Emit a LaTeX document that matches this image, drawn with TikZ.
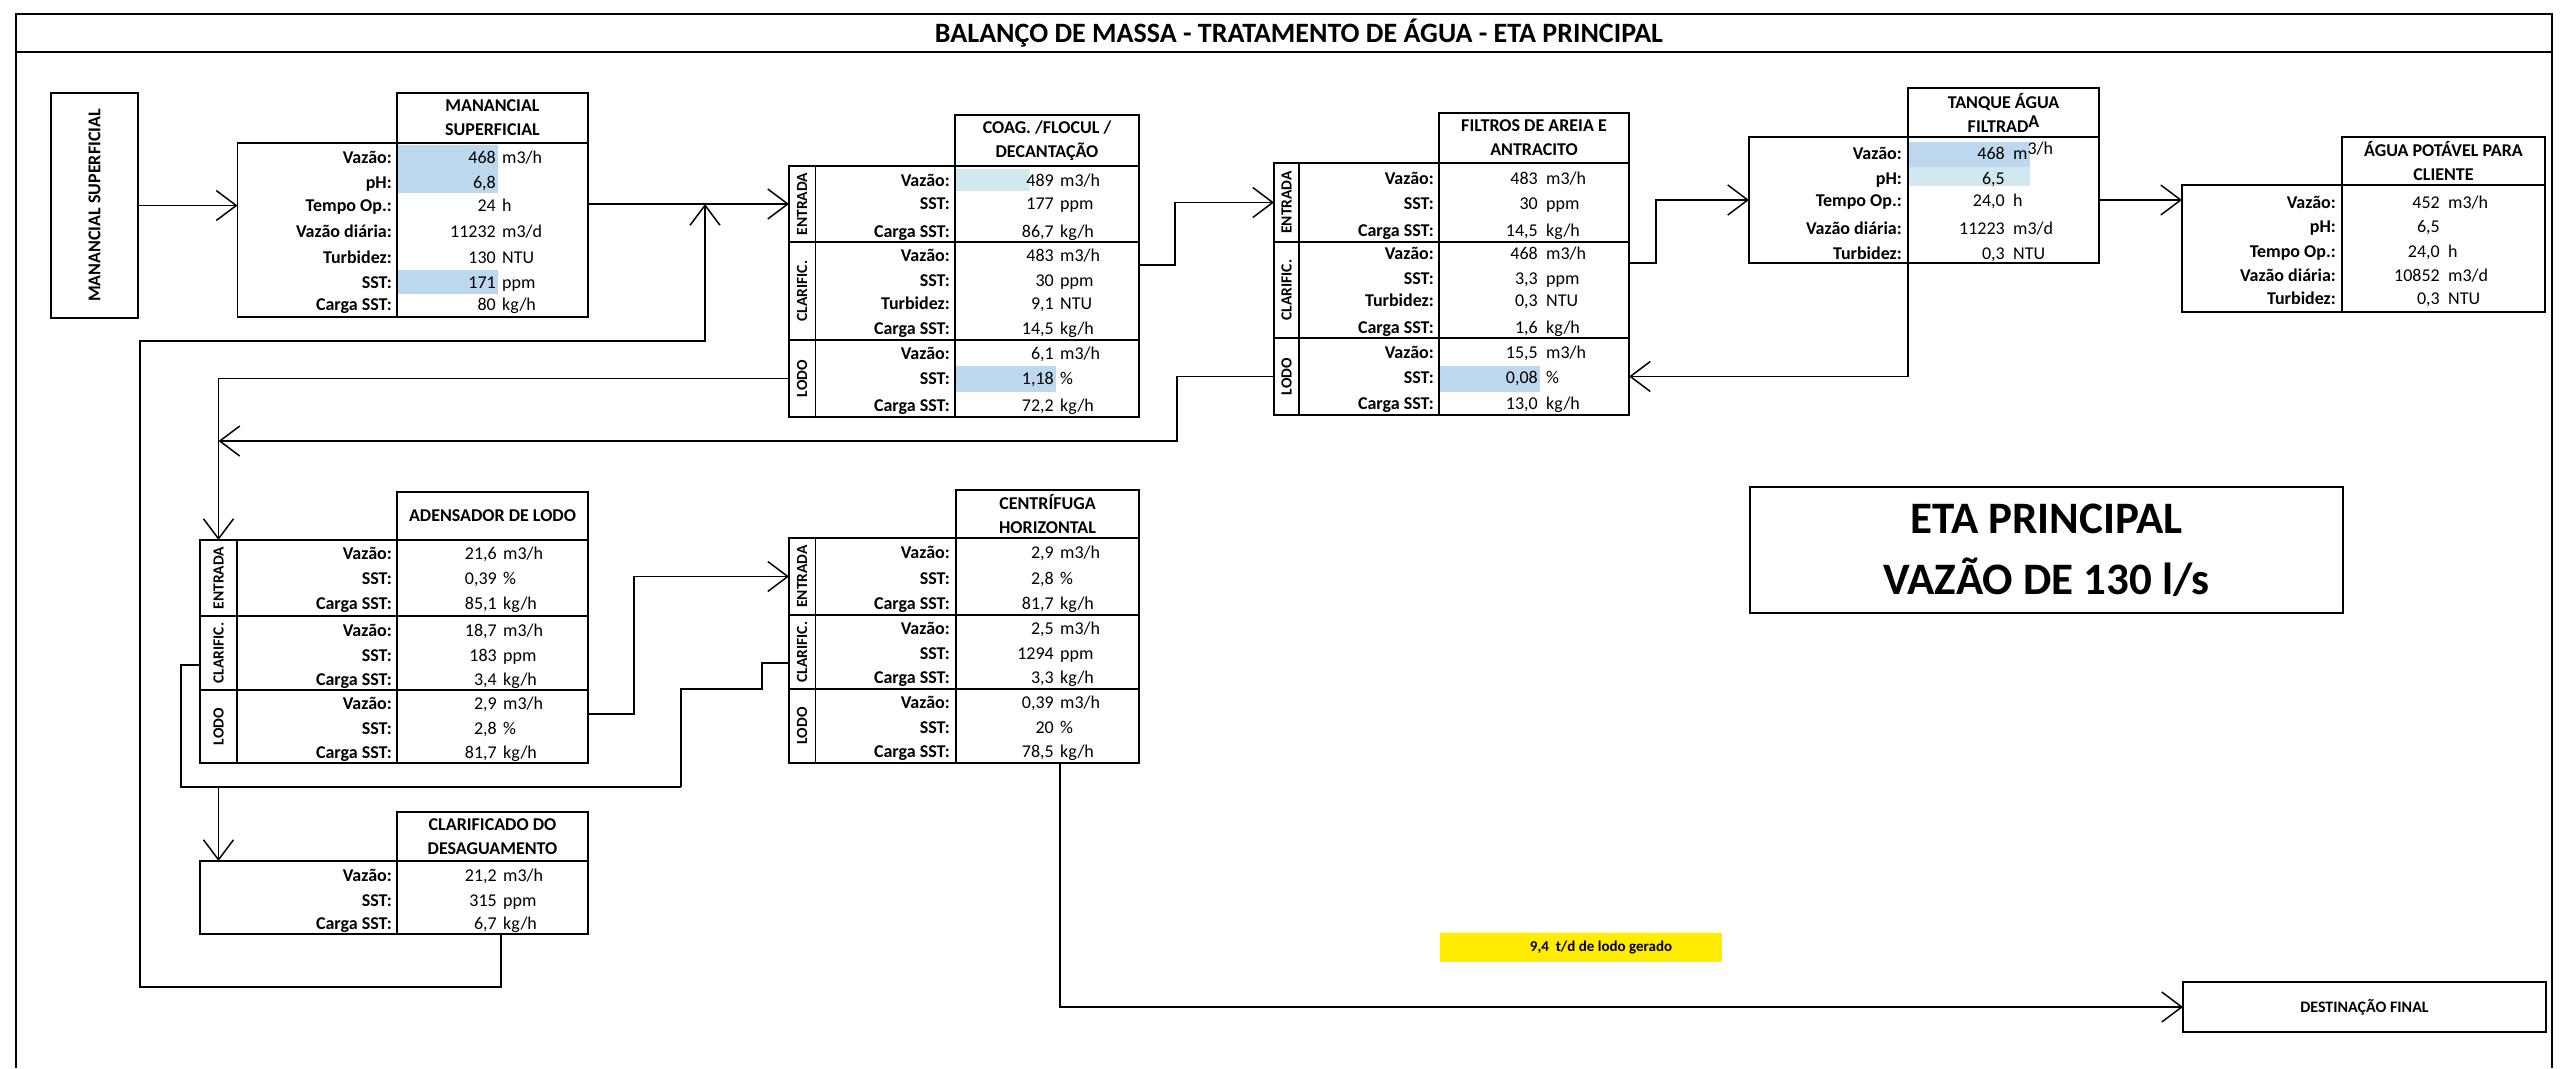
\documentclass[tikz,border=0pt]{standalone}
\usepackage{fontspec}
\setmainfont{Carlito}
\usetikzlibrary{arrows.meta}
\definecolor{hl}{RGB}{189,215,238}
\definecolor{hlb}{RGB}{208,232,240}
\definecolor{yel}{RGB}{255,236,0}
\newcommand\rw[5]{%
  \node[lab,anchor=base east] (#1a) at (\LX,#2) {#3};
  \node[val,anchor=base east] (#1b) at (\VX,#2) {#4};
  \node[val,anchor=base west] (#1c) at (\UX,#2) {#5};}
\begin{document}
\begin{tikzpicture}[x=1pt,y=-1pt,
  box/.style={draw, line width=1.5pt, inner sep=0pt, outer sep=0pt},
  hdr/.style={box, align=center, font=\fontsize{18}{24}\selectfont\bfseries},
  lab/.style={inner sep=0pt, font=\fontsize{18}{20}\selectfont\bfseries},
  val/.style={inner sep=0pt, font=\fontsize{18}{20}\selectfont},
  sec/.style={inner sep=0pt, rotate=90, font=\fontsize{15.5}{17}\selectfont\bfseries},
  wire/.style={line width=1.5pt},
  conn/.style={wire, -{Straight Barb[length=20pt,width=30pt]}}]
\useasboundingbox (0,0) rectangle (2561,1068);
% frame and title
\draw[wire] (16,1068) -- (16,14) -- (2552,14) -- (2552,1068);
\draw[wire] (16,52) -- (2552,52);
\node[font=\fontsize{28}{30}\selectfont\bfseries] (title) at (1299,33) {BALANÇO DE MASSA - TRATAMENTO DE ÁGUA - ETA PRINCIPAL};
% highlights
\fill[hl] (398,145) rectangle (498,193);
\fill[hl] (398,270) rectangle (498,294);
\fill[hlb] (956,169) rectangle (1030,191);
\fill[hl] (956,366) rectangle (1056,392);
\fill[hl] (1440,366) rectangle (1540,392);
\fill[hl] (1909,142) rectangle (2030,167);
\fill[hlb] (1909,167) rectangle (2030,186);
% source
\node[box, anchor=north west, minimum width=87pt, minimum height=225pt, font=\fontsize{18}{20}\selectfont\bfseries] (src) at (51,93) {\rotatebox{90}{MANANCIAL SUPERFICIAL}};
% Manancial table
\node[hdr, anchor=north west, minimum width=191pt, minimum height=50pt] (manH) at (397,93) {MANANCIAL\\SUPERFICIAL};
\node[box, anchor=north west, minimum width=350.5pt, minimum height=174pt] (manB) at (237.5,143) {};
\draw[wire] (manH.south west) -- (manH.south west |- manB.south);
\def\LX{392}\def\VX{496}\def\UX{502}
\rw{man1}{163}{Vazão:}{468}{m3/h}
\rw{man2}{188}{pH:}{6,8}{}
\rw{man3}{211}{Tempo Op.:}{24}{h}
\rw{man4}{237}{Vazão diária:}{11232}{m3/d}
\rw{man5}{263}{Turbidez:}{130}{NTU}
\rw{man6}{288}{SST:}{171}{ppm}
\rw{man7}{310}{Carga SST:}{80}{kg/h}
% COAG
\node[hdr, anchor=north west, minimum width=184pt, minimum height=51pt] (coagH) at (955,115) {COAG. /FLOCUL /\\DECANTAÇÃO};
\node[box, anchor=north west, minimum width=350pt, minimum height=76pt] (coagE) at (789,166) {};
\node[box, anchor=north west, minimum width=350pt, minimum height=98pt] (coagC) at (789,242) {};
\node[box, anchor=north west, minimum width=350pt, minimum height=77pt] (coagL) at (789,340) {};
\draw[wire] (815.5,166) -- (815.5,417);
\draw[wire] (955,166) -- (955,417);
\node[sec] (coagEs) at (802,204) {ENTRADA};
\node[sec] (coagCs) at (802,291) {CLARIFIC.};
\node[sec] (coagLs) at (802,378.5) {LODO};
\def\LX{950}\def\VX{1054}\def\UX{1060}
\rw{coag1}{186}{Vazão:}{489}{m3/h}
\rw{coag2}{209}{SST:}{177}{ppm}
\rw{coag3}{237}{Carga SST:}{86,7}{kg/h}
\rw{coag4}{261}{Vazão:}{483}{m3/h}
\rw{coag5}{286}{SST:}{30}{ppm}
\rw{coag6}{309}{Turbidez:}{9,1}{NTU}
\rw{coag7}{334}{Carga SST:}{14,5}{kg/h}
\rw{coag8}{359}{Vazão:}{6,1}{m3/h}
\rw{coag9}{384}{SST:}{1,18}{\%}
\rw{coag10}{411}{Carga SST:}{72,2}{kg/h}
% Filtros
\node[hdr, anchor=north west, minimum width=190pt, minimum height=50pt] (filH) at (1439,113) {FILTROS DE AREIA E\\ANTRACITO};
\node[box, anchor=north west, minimum width=355pt, minimum height=79pt] (filE) at (1274,163) {};
\node[box, anchor=north west, minimum width=355pt, minimum height=96pt] (filC) at (1274,242) {};
\node[box, anchor=north west, minimum width=355pt, minimum height=77pt] (filL) at (1274,338) {};
\draw[wire] (1299,163) -- (1299,415);
\draw[wire] (1439,163) -- (1439,415);
\node[sec] (filEs) at (1286.5,202.5) {ENTRADA};
\node[sec] (filCs) at (1286.5,290) {CLARIFIC.};
\node[sec] (filLs) at (1286.5,376.5) {LODO};
\def\LX{1434}\def\VX{1538}\def\UX{1546}
\rw{fil1}{184}{Vazão:}{483}{m3/h}
\rw{fil2}{209}{SST:}{30}{ppm}
\rw{fil3}{236}{Carga SST:}{14,5}{kg/h}
\rw{fil4}{259}{Vazão:}{468}{m3/h}
\rw{fil5}{284}{SST:}{3,3}{ppm}
\rw{fil6}{306}{Turbidez:}{0,3}{NTU}
\rw{fil7}{333}{Carga SST:}{1,6}{kg/h}
\rw{fil8}{358}{Vazão:}{15,5}{m3/h}
\rw{fil9}{383}{SST:}{0,08}{\%}
\rw{fil10}{409}{Carga SST:}{13,0}{kg/h}
% Tanque
\node[hdr, anchor=north west, minimum width=191pt, minimum height=49pt] (tnkH) at (1908,88) {TANQUE ÁGUA\\FILTRAD\raisebox{5pt}{A}};
\node[box, anchor=north west, minimum width=350pt, minimum height=126pt] (tnkB) at (1749,137) {};
\draw[wire] (tnkH.south west) -- (tnkH.south west |- tnkB.south);
\def\LX{1902}\def\VX{2005}\def\UX{2013}
\rw{tnk1}{159}{Vazão:}{468}{m\raisebox{5pt}{3/h}}
\rw{tnk2}{184}{pH:}{6,5}{}
\rw{tnk3}{206}{Tempo Op.:}{24,0}{h}
\rw{tnk4}{234}{Vazão diária:}{11223}{m3/d}
\rw{tnk5}{259}{Turbidez:}{0,3}{NTU}
% Agua potavel
\node[hdr, anchor=north west, minimum width=203pt, minimum height=48pt] (aguH) at (2342,137) {ÁGUA POTÁVEL PARA\\CLIENTE};
\node[box, anchor=north west, minimum width=363pt, minimum height=127pt] (aguB) at (2182,185) {};
\draw[wire] (aguH.south west) -- (aguH.south west |- aguB.south);
\def\LX{2336}\def\VX{2440}\def\UX{2448}
\rw{agu1}{208}{Vazão:}{452}{m3/h}
\rw{agu2}{232}{pH:}{6,5}{}
\rw{agu3}{257}{Tempo Op.:}{24,0}{h}
\rw{agu4}{281}{Vazão diária:}{10852}{m3/d}
\rw{agu5}{304}{Turbidez:}{0,3}{NTU}
% Adensador
\node[hdr, anchor=north west, minimum width=191pt, minimum height=48pt] (adH) at (397,492) {ADENSADOR DE LODO};
\node[box, anchor=north west, minimum width=388pt, minimum height=76pt] (adE) at (200,540) {};
\node[box, anchor=north west, minimum width=388pt, minimum height=74pt] (adC) at (200,616) {};
\node[box, anchor=north west, minimum width=388pt, minimum height=73pt] (adL) at (200,690) {};
\draw[wire] (237,540) -- (237,763);
\draw[wire] (397,540) -- (397,763);
\node[sec] (adEs) at (218.5,578) {ENTRADA};
\node[sec] (adCs) at (218.5,653) {CLARIFIC.};
\node[sec] (adLs) at (218.5,726.5) {LODO};
\def\LX{392}\def\VX{497}\def\UX{503}
\rw{ad1}{559}{Vazão:}{21,6}{m3/h}
\rw{ad2}{584}{SST:}{0,39}{\%}
\rw{ad3}{609}{Carga SST:}{85,1}{kg/h}
\rw{ad4}{636}{Vazão:}{18,7}{m3/h}
\rw{ad5}{661}{SST:}{183}{ppm}
\rw{ad6}{685}{Carga SST:}{3,4}{kg/h}
\rw{ad7}{709}{Vazão:}{2,9}{m3/h}
\rw{ad8}{734}{SST:}{2,8}{\%}
\rw{ad9}{758}{Carga SST:}{81,7}{kg/h}
% Centrifuga
\node[hdr, anchor=north west, minimum width=183pt, minimum height=48pt] (cenH) at (956,490) {CENTRÍFUGA\\HORIZONTAL};
\node[box, anchor=north west, minimum width=350pt, minimum height=77pt] (cenE) at (789,538) {};
\node[box, anchor=north west, minimum width=350pt, minimum height=74pt] (cenC) at (789,615) {};
\node[box, anchor=north west, minimum width=350pt, minimum height=74pt] (cenL) at (789,689) {};
\draw[wire] (815.5,538) -- (815.5,763);
\draw[wire] (956,538) -- (956,763);
\node[sec] (cenEs) at (802,576.5) {ENTRADA};
\node[sec] (cenCs) at (802,652) {CLARIFIC.};
\node[sec] (cenLs) at (802,726) {LODO};
\def\LX{950}\def\VX{1054}\def\UX{1060}
\rw{cen1}{558}{Vazão:}{2,9}{m3/h}
\rw{cen2}{584}{SST:}{2,8}{\%}
\rw{cen3}{609}{Carga SST:}{81,7}{kg/h}
\rw{cen4}{634}{Vazão:}{2,5}{m3/h}
\rw{cen5}{659}{SST:}{1294}{ppm}
\rw{cen6}{683}{Carga SST:}{3,3}{kg/h}
\rw{cen7}{708}{Vazão:}{0,39}{m3/h}
\rw{cen8}{733}{SST:}{20}{\%}
\rw{cen9}{757}{Carga SST:}{78,5}{kg/h}
% Clarificado
\node[hdr, anchor=north west, minimum width=191pt, minimum height=49pt] (clrH) at (397,812) {CLARIFICADO DO\\DESAGUAMENTO};
\node[box, anchor=north west, minimum width=388pt, minimum height=73pt] (clrB) at (200,861) {};
\draw[wire] (clrH.south west) -- (clrH.south west |- clrB.south);
\def\LX{392}\def\VX{497}\def\UX{503}
\rw{clr1}{881}{Vazão:}{21,2}{m3/h}
\rw{clr2}{906}{SST:}{315}{ppm}
\rw{clr3}{929}{Carga SST:}{6,7}{kg/h}
% ETA box
\node[box, line width=2pt, minimum width=593pt, minimum height=126pt, align=center, font=\fontsize{45}{61}\selectfont\bfseries] (eta) at (2046.5,550) {ETA PRINCIPAL\\VAZÃO DE 130 l/s};
% yellow note
\node[fill=yel, inner sep=0pt, minimum width=282pt, minimum height=29pt, font=\fontsize{15}{17}\selectfont\bfseries] (note) at (1581,947.5) {\hspace*{40pt}9,4~~t/d de lodo gerado};
% destination
\node[box, minimum width=363pt, minimum height=50pt, font=\fontsize{16}{18}\selectfont\bfseries] (dest) at (2364.5,1007) {DESTINAÇÃO FINAL};
% connector ports
\coordinate (coagCo) at (1139,265);
\coordinate (filCo) at (1629,263);
\coordinate (tnkDiv) at (1908,263);
\coordinate (adIn) at (218.5,540);
\coordinate (bus) at (218.5,441);
\coordinate (adLo) at (588,714);
\coordinate (adCo) at (200,665);
\coordinate (cenCo) at (789,663);
\coordinate (merge) at (681,787);
\coordinate (clrIn) at (218.5,861);
\coordinate (clrOut) at (501,934);
\coordinate (recJ) at (705,204);
\coordinate (cenLo) at (1060,763);
% connectors
\draw[conn] (src.east) -- (src.east -| manB.west);
\draw[conn] (manB.east |- coagE.west) -- (coagE.west);
\draw[conn] (coagCo) -- ++(36,0) |- (filE.west);
\draw[conn] (filCo) -- ++(27,0) |- (tnkB.west);
\draw[conn] (tnkB.east) -- (tnkB.east -| aguB.west);
\draw[conn] (tnkDiv) |- (filL.east);
\draw[conn] (coagL.west) -| (adIn);
\draw[conn] (filL.west) -- ++(-97,0) |- (bus);
\draw[conn] (adLo) -- ++(46,0) |- (cenE.west);
\draw[wire] (adCo) -- ++(-19,0) |- (merge);
\draw[wire] (cenCo) -- ++(-27,0) -- ++(0,26) -| (merge);
\draw[conn] (clrIn |- merge) -- (clrIn);
\draw[conn] (clrOut) -- ++(0,53) -- ++(-361,0) -- ++(0,-646) -| (recJ);
\draw[conn] (cenLo) |- (dest.west);
\end{tikzpicture}
\end{document}
